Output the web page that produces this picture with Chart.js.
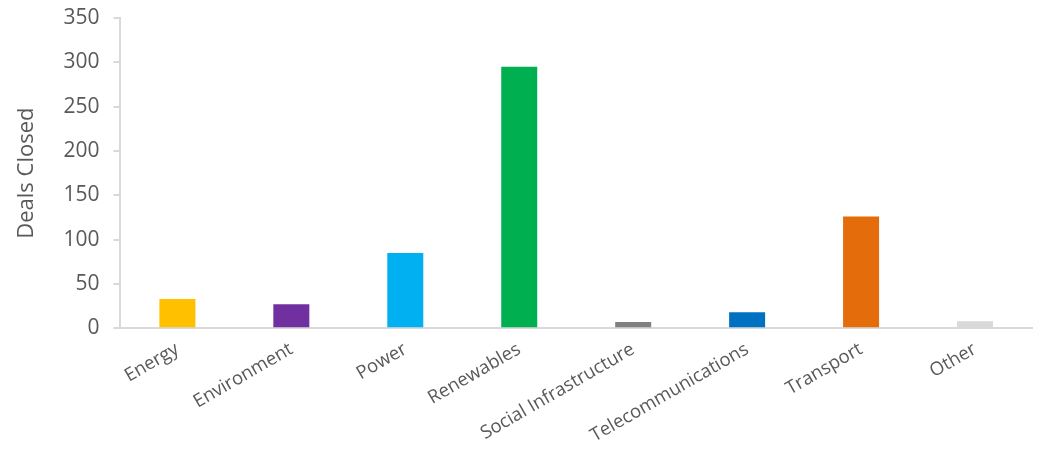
<!DOCTYPE html>
<html>
<head>
<meta charset="utf-8">
<script src="https://cdn.jsdelivr.net/npm/chart.js@4/dist/chart.umd.min.js"></script>
<style>
  html, body { margin: 0; padding: 0; background: #fff; }
  #wrap { width: 1037px; height: 449px; }
</style>
</head>
<body>
<div id="wrap"><canvas id="dealsChart"></canvas></div>
<script>
const sectors = ["Energy", "Environment", "Power", "Renewables", "Social Infrastructure", "Telecommunications", "Transport", "Other"];
const dealsClosed = [33, 27, 85, 295, 7, 18, 126, 8];
const barColors = ["#ffc000", "#7030a0", "#00b0f0", "#00b050", "#808080", "#0070c0", "#e46c0a", "#d9d9d9"];
const yTicks = [0, 50, 100, 150, 200, 250, 300, 350];

document.addEventListener("DOMContentLoaded", function () {
  const ctx = document.getElementById("dealsChart");
  if (!ctx) return;

  new Chart(ctx, {
    type: "bar",
    data: {
      labels: sectors,
      datasets: [
        {
          label: "Deals Closed",
          data: dealsClosed,
          backgroundColor: barColors,
          borderWidth: 0,
          barPercentage: 0.316,
          categoryPercentage: 1
        }
      ]
    },
    options: {
      responsive: true,
      maintainAspectRatio: false,
      animation: false,
      layout: { padding: { top: 0, right: 5, left: 14, bottom: 0 } },
      scales: {
        x: {
          grid: { display: false },
          border: { display: true, color: "#d9d9d9", width: 2 },
          ticks: {
            color: "#595959",
            font: { family: "Open Sans", size: 18.5 },
            maxRotation: 30,
            minRotation: 30,
            padding: 2
          }
        },
        y: {
          min: 0,
          max: 350,
          afterBuildTicks: function (axis) {
            axis.ticks = yTicks.map(function (v) { return { value: v }; });
          },
          // fixed gap above the 350 tick
          afterFit: function (axis) {
            axis.paddingTop = 18;
          },
          grid: {
            drawOnChartArea: false,
            drawTicks: true,
            tickLength: 7,
            color: "#d9d9d9",
            lineWidth: 2
          },
          border: { display: true, color: "#d9d9d9", width: 2 },
          ticks: {
            color: "#595959",
            font: { family: "Open Sans", size: 21 },
            padding: 14
          },
          title: {
            display: true,
            text: "Deals Closed",
            color: "#595959",
            font: { family: "Open Sans", size: 22 },
            padding: { top: 0, bottom: 9 }
          }
        }
      },
      plugins: {
        legend: { display: false },
        tooltip: { enabled: false }
      }
    }
  });
});
</script>
</body>
</html>
